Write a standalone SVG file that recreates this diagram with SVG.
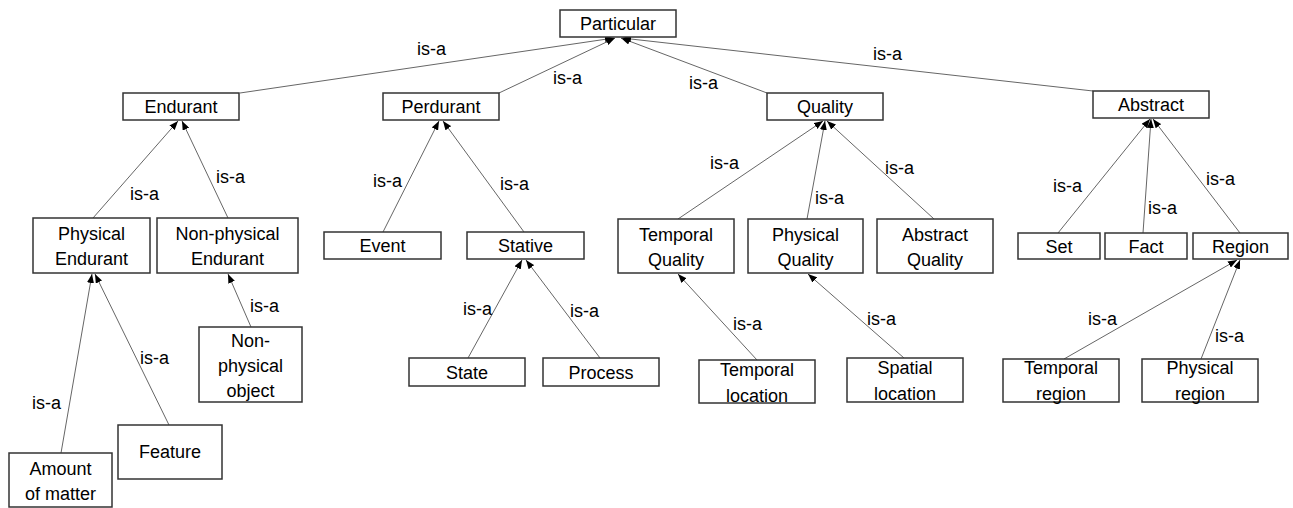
<svg xmlns="http://www.w3.org/2000/svg" width="1293" height="508" viewBox="0 0 1293 508">
<style>
.box{fill:#fff;stroke:#333;stroke-width:1.5}
.lbl{font-family:"Liberation Sans",Arial,sans-serif;font-size:18px;fill:#000;text-anchor:middle}
.isa{font-family:"Liberation Sans",Arial,sans-serif;font-size:18px;fill:#000}
.edge{stroke:#666;stroke-width:1;fill:none;marker-end:url(#arr)}
</style>
<defs>
<marker id="arr" markerUnits="userSpaceOnUse" markerWidth="9" markerHeight="7" refX="9" refY="3.5" orient="auto">
<path d="M0,0 L9,3.5 L0,7 z" fill="#000"/>
</marker>
</defs>
<rect width="1293" height="508" fill="#fff"/>
<g id="connectors">
<line class="edge" x1="240" y1="93" x2="614" y2="38"/>
<line class="edge" x1="499" y1="93" x2="615" y2="38"/>
<line class="edge" x1="767" y1="93" x2="621" y2="38"/>
<line class="edge" x1="1093" y1="91" x2="622" y2="38"/>
<line class="edge" x1="93" y1="218" x2="178" y2="121"/>
<line class="edge" x1="228" y1="218" x2="182" y2="121"/>
<line class="edge" x1="61" y1="453" x2="92" y2="274"/>
<line class="edge" x1="169" y1="425" x2="95" y2="274"/>
<line class="edge" x1="251" y1="327" x2="228" y2="274"/>
<line class="edge" x1="383" y1="232" x2="439" y2="121"/>
<line class="edge" x1="524" y1="232" x2="443" y2="121"/>
<line class="edge" x1="468" y1="358" x2="522" y2="260"/>
<line class="edge" x1="600" y1="358" x2="526" y2="260"/>
<line class="edge" x1="678" y1="219" x2="823" y2="121"/>
<line class="edge" x1="807" y1="219" x2="825" y2="121"/>
<line class="edge" x1="934" y1="219" x2="827" y2="121"/>
<line class="edge" x1="757" y1="360" x2="678" y2="274"/>
<line class="edge" x1="904" y1="358" x2="808" y2="274"/>
<line class="edge" x1="1058" y1="233" x2="1150" y2="119"/>
<line class="edge" x1="1143" y1="233" x2="1151" y2="119"/>
<line class="edge" x1="1240" y1="233" x2="1153" y2="119"/>
<line class="edge" x1="1064" y1="359" x2="1237" y2="260"/>
<line class="edge" x1="1201" y1="359" x2="1240" y2="260"/>
<text class="isa" x="417" y="55">is-a</text>
<text class="isa" x="553" y="84">is-a</text>
<text class="isa" x="689" y="89">is-a</text>
<text class="isa" x="873" y="60">is-a</text>
<text class="isa" x="130" y="200">is-a</text>
<text class="isa" x="216" y="183">is-a</text>
<text class="isa" x="32" y="409">is-a</text>
<text class="isa" x="140" y="364">is-a</text>
<text class="isa" x="250" y="312">is-a</text>
<text class="isa" x="373" y="187">is-a</text>
<text class="isa" x="500" y="190">is-a</text>
<text class="isa" x="463" y="315">is-a</text>
<text class="isa" x="570" y="317">is-a</text>
<text class="isa" x="710" y="169">is-a</text>
<text class="isa" x="815" y="204">is-a</text>
<text class="isa" x="885" y="174">is-a</text>
<text class="isa" x="733" y="330">is-a</text>
<text class="isa" x="867" y="325">is-a</text>
<text class="isa" x="1053" y="192">is-a</text>
<text class="isa" x="1148" y="214">is-a</text>
<text class="isa" x="1206" y="185">is-a</text>
<text class="isa" x="1088" y="325">is-a</text>
<text class="isa" x="1215" y="342">is-a</text>
</g>
<g id="particular"><rect class="box" x="560" y="10" width="116" height="27"/><text class="lbl" x="618" y="30">Particular</text></g>
<g id="endurant"><rect class="box" x="123" y="93" width="116" height="27"/><text class="lbl" x="181" y="113">Endurant</text></g>
<g id="perdurant"><rect class="box" x="383" y="93" width="116" height="27"/><text class="lbl" x="441" y="113">Perdurant</text></g>
<g id="quality"><rect class="box" x="767" y="93" width="116" height="27"/><text class="lbl" x="825" y="113">Quality</text></g>
<g id="abstract"><rect class="box" x="1093" y="91" width="116" height="27"/><text class="lbl" x="1151" y="111">Abstract</text></g>
<g id="physical-endurant"><rect class="box" x="33" y="218" width="117" height="55"/><text class="lbl" x="91.5" y="240">Physical</text><text class="lbl" x="91.5" y="265">Endurant</text></g>
<g id="non-physical-endurant"><rect class="box" x="157" y="218" width="141" height="55"/><text class="lbl" x="227.5" y="240">Non-physical</text><text class="lbl" x="227.5" y="265">Endurant</text></g>
<g id="non-physical-object"><rect class="box" x="199" y="327" width="103" height="75"/><text class="lbl" x="250.5" y="347">Non-</text><text class="lbl" x="250.5" y="372">physical</text><text class="lbl" x="250.5" y="397">object</text></g>
<g id="feature"><rect class="box" x="118" y="425" width="104" height="54"/><text class="lbl" x="170" y="458">Feature</text></g>
<g id="amount-of-matter"><rect class="box" x="9" y="453" width="103" height="54"/><text class="lbl" x="60.5" y="475">Amount</text><text class="lbl" x="60.5" y="500">of matter</text></g>
<g id="event"><rect class="box" x="324" y="232" width="117" height="27"/><text class="lbl" x="382.5" y="252">Event</text></g>
<g id="stative"><rect class="box" x="467" y="232" width="117" height="27"/><text class="lbl" x="525.5" y="252">Stative</text></g>
<g id="state"><rect class="box" x="409" y="358" width="116" height="28"/><text class="lbl" x="467" y="379">State</text></g>
<g id="process"><rect class="box" x="543" y="358" width="116" height="28"/><text class="lbl" x="601" y="379">Process</text></g>
<g id="temporal-quality"><rect class="box" x="618" y="219" width="116" height="54"/><text class="lbl" x="676" y="241">Temporal</text><text class="lbl" x="676" y="266">Quality</text></g>
<g id="physical-quality"><rect class="box" x="748" y="219" width="115" height="54"/><text class="lbl" x="805.5" y="241">Physical</text><text class="lbl" x="805.5" y="266">Quality</text></g>
<g id="abstract-quality"><rect class="box" x="877" y="219" width="116" height="54"/><text class="lbl" x="935" y="241">Abstract</text><text class="lbl" x="935" y="266">Quality</text></g>
<g id="temporal-location"><rect class="box" x="699" y="360" width="116" height="43"/><text class="lbl" x="757" y="376">Temporal</text><text class="lbl" x="757" y="402">location</text></g>
<g id="spatial-location"><rect class="box" x="847" y="358" width="116" height="44"/><text class="lbl" x="905" y="374">Spatial</text><text class="lbl" x="905" y="400">location</text></g>
<g id="set"><rect class="box" x="1018" y="233" width="82" height="26"/><text class="lbl" x="1059" y="253">Set</text></g>
<g id="fact"><rect class="box" x="1105" y="233" width="82" height="26"/><text class="lbl" x="1146" y="253">Fact</text></g>
<g id="region"><rect class="box" x="1193" y="233" width="95" height="26"/><text class="lbl" x="1240.5" y="253">Region</text></g>
<g id="temporal-region"><rect class="box" x="1003" y="359" width="116" height="43"/><text class="lbl" x="1061" y="374">Temporal</text><text class="lbl" x="1061" y="400">region</text></g>
<g id="physical-region"><rect class="box" x="1142" y="359" width="116" height="43"/><text class="lbl" x="1200" y="374">Physical</text><text class="lbl" x="1200" y="400">region</text></g>
</svg>
